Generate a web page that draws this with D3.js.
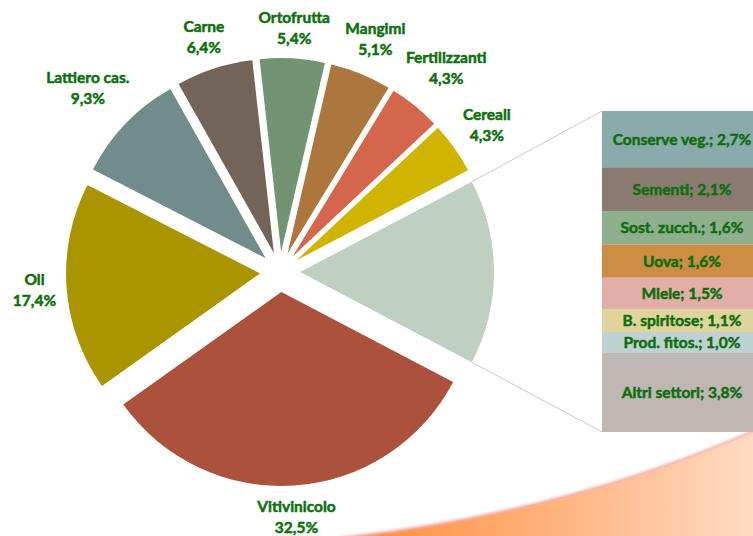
<!DOCTYPE html>
<html>
<head>
<meta charset="utf-8">
<script src="https://cdn.jsdelivr.net/npm/d3@7"></script>
<style>
  body { margin: 0; background: #fff; }
  svg { display: block; }
  text { font-family: Lato, "Open Sans", sans-serif; font-weight: 700; }
</style>
</head>
<body>
<div id="chart"></div>
<script>
// pie sectors (clockwise, starting right after the "altri" slice)
var pieNames = ["Vitivinicolo", "Oli", "Lattiero cas.", "Carne", "Ortofrutta", "Mangimi", "Fertilizzanti", "Cereali"];
var pieValues = [32.5, 17.4, 9.3, 6.4, 5.4, 5.1, 4.3, 4.3];
var pieColors = ["#ac513c", "#a99500", "#728c8c", "#73645a", "#739473", "#ab773c", "#d4664c", "#cfb500"];

// the breakdown of the grouped slice, top to bottom
var barNames = ["Conserve veg.", "Sementi", "Sost. zucch.", "Uova", "Miele", "B. spiritose", "Prod. fitos.", "Altri settori"];
var barValues = [2.7, 2.1, 1.6, 1.6, 1.5, 1.1, 1.0, 3.8];
var barColors = ["#8aabab", "#8a7a70", "#8fb08f", "#cd8d45", "#e3ada8", "#e0d49e", "#bfd2d2", "#c0b6b4"];
var otherColor = "#c0d0c0";

var width = 753, height = 536;
var cx = 280, cy = 272, radius = 194, explode = 20;
var labelR = 223;
var green = "#0e6e0e";
var fontSize = "15.5px";

function pct(v) { return d3.format(".1f")(v).replace(".", ",") + "%"; }

var svg = d3.select("#chart").append("svg")
    .attr("width", width)
    .attr("height", height);

// background swoosh bottom right
var defs = svg.append("defs");
var grad = defs.append("linearGradient").attr("id", "swoosh")
    .attr("gradientUnits", "userSpaceOnUse")
    .attr("x1", 370).attr("y1", 0).attr("x2", 760).attr("y2", 0);
grad.append("stop").attr("offset", "0%").attr("stop-color", "#ff8f3f");
grad.append("stop").attr("offset", "100%").attr("stop-color", "#ffdcc6");
var blur = defs.append("filter").attr("id", "soft");
blur.append("feGaussianBlur").attr("stdDeviation", 1);

svg.append("path")
    .attr("d", "M340,538 Q570,512 760,428 L760,540 L340,540 Z")
    .attr("fill", "url(#swoosh)");
svg.append("path")
    .attr("d", "M340,538 Q570,512 760,428")
    .attr("fill", "none")
    .attr("stroke", "#f7b4b4")
    .attr("stroke-width", 2.5)
    .attr("filter", "url(#soft)");

// pie data incl. grouped slice
var otherTotal = d3.sum(barValues);
var slices = pieNames.map(function(n, i) { return {name: n, value: pieValues[i], color: pieColors[i]}; });
slices.push({name: "altri", value: otherTotal, color: otherColor, other: true});

var total = d3.sum(slices, function(d) { return d.value; });
var otherAngle = 2 * Math.PI * otherTotal / total;
var start = Math.PI / 2 + otherAngle / 2;

var pie = d3.pie().sort(null).value(function(d) { return d.value; })
    .startAngle(start).endAngle(start + 2 * Math.PI);
var arc = d3.arc().innerRadius(0).outerRadius(radius);
var arcs = pie(slices);

function offset(d, dist) {
    var a = (d.startAngle + d.endAngle) / 2;
    return [Math.sin(a) * dist, -Math.cos(a) * dist];
}

var g = svg.append("g").attr("transform", "translate(" + cx + "," + cy + ")");

g.selectAll("path.slice")
    .data(arcs)
    .enter().append("path")
    .attr("class", "slice")
    .attr("d", arc)
    .attr("fill", function(d) { return d.data.color; })
    .attr("transform", function(d) { var o = offset(d, explode); return "translate(" + o[0] + "," + o[1] + ")"; });

// labels outside
arcs.forEach(function(d) {
    if (d.data.other) return;
    var a = (d.startAngle + d.endAngle) / 2;
    var dx = Math.sin(a), dy = -Math.cos(a);
    var t = g.append("text").attr("text-anchor", "middle").attr("fill", green)
        .attr("stroke", green).attr("stroke-width", 0.5)
        .style("font-size", fontSize);
    t.append("tspan").attr("x", 0).attr("dy", 0).text(d.data.name);
    t.append("tspan").attr("x", 0).attr("dy", 21).text(pct(d.data.value));
    var bb = t.node().getBBox();
    var dist = labelR + Math.abs(dx) * bb.width / 2 + Math.abs(dy) * bb.height / 2;
    var px = dx * dist, py = dy * dist;
    t.attr("transform", "translate(" + px + "," + (py - (bb.y + bb.height / 2)) + ")");
});

// stacked bar for the grouped slice
var barX = 602, barW = 160, barTop = 111, barBottom = 432;
var y = d3.scaleLinear().domain([0, otherTotal]).range([barTop, barBottom]);
var cum = 0;
var barData = barNames.map(function(n, i) {
    var r = {name: n, value: barValues[i], color: barColors[i], y0: cum};
    cum += barValues[i];
    r.y1 = cum;
    return r;
});

// connector lines from the grouped slice to the bar
var od = arcs[arcs.length - 1];
var oo = offset(od, explode);
var topCorner = [cx + oo[0] + Math.sin(od.startAngle) * radius, cy + oo[1] - Math.cos(od.startAngle) * radius];
var botCorner = [cx + oo[0] + Math.sin(od.endAngle) * radius, cy + oo[1] - Math.cos(od.endAngle) * radius];
svg.append("line")
    .attr("x1", topCorner[0]).attr("y1", topCorner[1])
    .attr("x2", barX).attr("y2", y(0))
    .attr("stroke", "#c9c9c9").attr("stroke-width", 1);
svg.append("line")
    .attr("x1", botCorner[0]).attr("y1", botCorner[1])
    .attr("x2", barX).attr("y2", y(otherTotal))
    .attr("stroke", "#c9c9c9").attr("stroke-width", 1);

var bars = svg.append("g");
bars.selectAll("rect")
    .data(barData)
    .enter().append("rect")
    .attr("x", barX)
    .attr("y", function(d) { return y(d.y0); })
    .attr("width", barW)
    .attr("height", function(d) { return y(d.y1) - y(d.y0); })
    .attr("fill", function(d) { return d.color; });

bars.selectAll("text")
    .data(barData)
    .enter().append("text")
    .attr("x", barX + barW / 2)
    .attr("y", function(d) { return (y(d.y0) + y(d.y1)) / 2; })
    .attr("dy", "0.35em")
    .attr("text-anchor", "middle")
    .attr("fill", green)
    .attr("stroke", green).attr("stroke-width", 0.5)
    .style("font-size", fontSize)
    .text(function(d) { return d.name + "; " + pct(d.value); });
</script>
</body>
</html>
